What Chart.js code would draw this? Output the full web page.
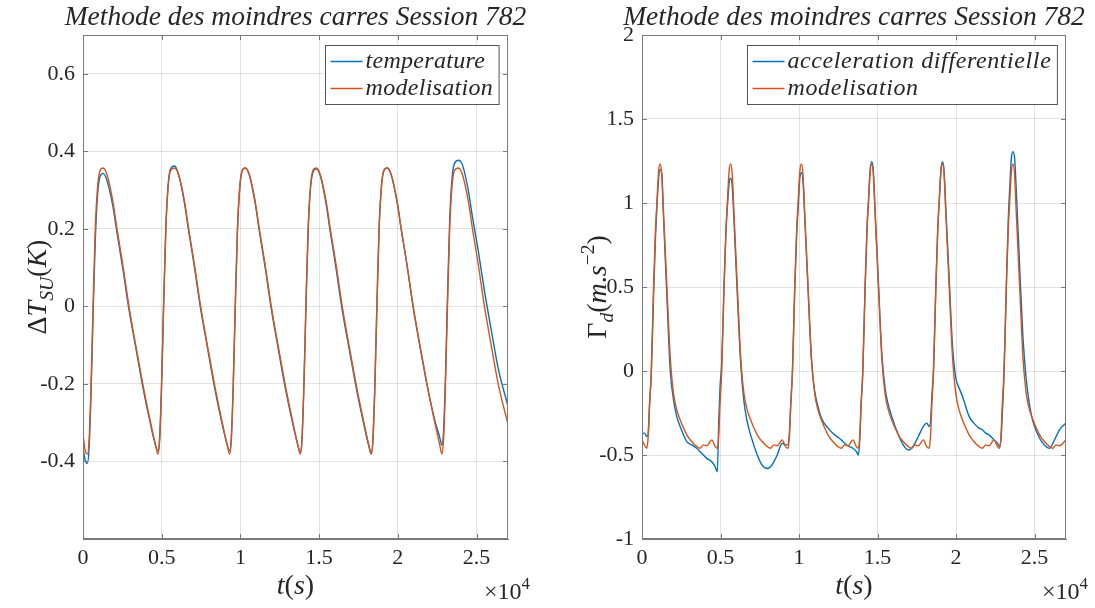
<!DOCTYPE html>
<html>
<head>
<meta charset="utf-8">
<script src="https://cdn.jsdelivr.net/npm/chart.js@4.4.1/dist/chart.umd.min.js"></script>
<style>
  html, body { margin: 0; padding: 0; background: #fff; }
  #wrap { position: relative; width: 1095px; height: 608px; }
  canvas { position: absolute; top: 0; }
  #left { left: 0; }
  #right { left: 547px; }
</style>
</head>
<body>
<div id="wrap">
  <canvas id="left" width="547" height="608"></canvas>
  <canvas id="right" width="548" height="608"></canvas>
</div>
<script>
// ---- data ----
const titleText = 'Methode des moindres carres Session 782';
const xTicks = [0, 5000, 10000, 15000, 20000, 25000];
const yTicksLeft = [-0.4, -0.2, 0, 0.2, 0.4, 0.6];
const yTicksRight = [-1, -0.5, 0, 0.5, 1, 1.5, 2];

// left plot: temperature difference (K) vs time (s)
const tLeft = [0,130,280,380,500,640,780,930,1080,1270,
  1520,1900,2160,2520,2920,3370,3810,4270,4620,4762,
  4862,4982,5122,5262,5412,5562,5822,
  6072,6452,6712,7072,7472,7922,8362,8822,9172,9314,
  9414,9534,9674,9814,9964,10114,10311,
  10561,10941,11201,11561,11961,12411,12851,13311,13661,13803,
  13903,14023,14163,14303,14453,14603,14819,
  15069,15449,15709,16069,16469,16919,17359,17819,18169,18311,
  18411,18531,18671,18811,18961,19111,19327,
  19577,19957,20217,20577,20977,21427,21867,22327,22677,22794,
  22894,23014,23154,23294,23444,23594,23854,
  24104,24484,24744,25104,25504,25954,26394,27000];
const tempLeft = [-0.363,-0.395,-0.405,-0.37,-0.24,-0.02,0.17,0.29,0.335,0.343,
  0.325,0.258,0.19,0.10,-0.008,-0.11,-0.21,-0.30,-0.36,-0.372,
  -0.345,-0.215,0.005,0.2,0.315,0.355,0.362,
  0.34,0.265,0.195,0.103,-0.006,-0.11,-0.21,-0.30,-0.358,-0.372,
  -0.345,-0.218,0.0,0.198,0.308,0.35,0.357,
  0.34,0.265,0.195,0.104,-0.006,-0.111,-0.21,-0.30,-0.36,-0.377,
  -0.35,-0.22,0.0,0.195,0.305,0.345,0.355,
  0.338,0.263,0.192,0.10,-0.01,-0.112,-0.21,-0.30,-0.362,-0.38,
  -0.35,-0.22,0.0,0.2,0.31,0.35,0.357,
  0.34,0.268,0.198,0.108,-0.003,-0.108,-0.205,-0.29,-0.34,-0.358,
  -0.33,-0.20,0.02,0.22,0.33,0.368,0.377,
  0.365,0.298,0.23,0.145,0.04,-0.065,-0.163,-0.257];
const modelLeft = [-0.33,-0.37,-0.381,-0.35,-0.22,0.0,0.2,0.31,0.35,0.357,
  0.34,0.27,0.2,0.11,0.0,-0.105,-0.203,-0.295,-0.36,-0.381,
  -0.35,-0.22,0.0,0.2,0.31,0.35,0.357,
  0.34,0.27,0.2,0.11,0.0,-0.105,-0.203,-0.295,-0.36,-0.381,
  -0.35,-0.22,0.0,0.2,0.31,0.35,0.357,
  0.34,0.27,0.2,0.11,0.0,-0.105,-0.203,-0.295,-0.36,-0.381,
  -0.35,-0.22,0.0,0.2,0.31,0.35,0.357,
  0.34,0.27,0.2,0.11,0.0,-0.105,-0.203,-0.295,-0.36,-0.381,
  -0.35,-0.22,0.0,0.2,0.31,0.35,0.357,
  0.34,0.27,0.2,0.11,0.0,-0.105,-0.203,-0.295,-0.36,-0.381,
  -0.35,-0.22,0.0,0.2,0.31,0.35,0.357,
  0.34,0.27,0.2,0.11,0.0,-0.105,-0.203,-0.304];

// right plot: differential acceleration (m/s^2) vs time (s)
const tRight = [0,150,311,401,481,591,736,861,948,1061,1161,
  1261,1370,1586,1796,2005,2211,2430,2855,3161,3490,3699,3909,4124,4442,4661,4797,
  4887,4967,5077,5222,5347,5434,5547,5647,
  5747,5856,6072,6282,6491,6697,6916,7341,7647,7976,8185,8395,8610,8928,9147,9302,
  9392,9472,9582,9727,9852,9939,10052,10152,
  10252,10361,10577,10787,10996,11202,11421,11846,12152,12481,12690,12900,13115,13433,13652,13782,
  13872,13952,14062,14207,14332,14419,14532,14632,
  14732,14841,15057,15267,15476,15682,15901,16326,16632,16961,17170,17380,17595,17913,18132,18287,
  18377,18457,18567,18712,18837,18924,19037,19137,
  19237,19346,19562,19772,19981,20187,20406,20831,21137,21466,21675,21885,22100,22418,22637,22774,
  22864,22944,23054,23199,23324,23411,23524,23624,
  23724,23833,24049,24259,24468,24674,24893,25318,25624,25953,26162,26372,26587,27000];
const accRight = [-0.37,-0.37,-0.39,-0.36,-0.2,-0.02,0.45,0.8,0.97,1.15,1.2,
  1.17,0.92,0.44,0.006,-0.17,-0.27,-0.33,-0.42,-0.44,-0.46,-0.48,-0.50,-0.52,-0.54,-0.57,-0.60,
  -0.3,-0.1,0.05,0.5,0.83,0.97,1.12,1.147,
  1.1,0.9,0.45,0.05,-0.18,-0.3,-0.38,-0.5,-0.56,-0.58,-0.57,-0.54,-0.5,-0.43,-0.44,-0.44,
  -0.36,-0.2,0.0,0.49,0.82,0.96,1.15,1.18,
  1.13,0.92,0.48,0.07,-0.12,-0.21,-0.28,-0.34,-0.37,-0.395,-0.41,-0.43,-0.445,-0.46,-0.48,-0.50,
  -0.40,-0.2,0.0,0.5,0.86,1.01,1.2,1.246,
  1.19,0.96,0.52,0.11,-0.1,-0.2,-0.27,-0.38,-0.44,-0.47,-0.46,-0.43,-0.39,-0.33,-0.31,-0.33,
  -0.3,-0.15,0.02,0.5,0.86,1.01,1.2,1.246,
  1.19,0.97,0.55,0.15,-0.04,-0.1,-0.15,-0.27,-0.31,-0.34,-0.35,-0.37,-0.38,-0.41,-0.43,-0.45,
  -0.4,-0.25,-0.02,0.5,0.9,1.08,1.27,1.305,
  1.27,1.08,0.62,0.2,-0.05,-0.2,-0.3,-0.4,-0.44,-0.46,-0.43,-0.39,-0.35,-0.31];
const modelRight = [-0.41,-0.44,-0.46,-0.38,-0.2,0.0,0.5,0.85,1.0,1.19,1.232,
  1.17,0.94,0.50,0.085,-0.133,-0.23,-0.29,-0.38,-0.42,-0.45,-0.46,-0.44,-0.445,-0.41,-0.45,-0.46,
  -0.38,-0.2,0.0,0.5,0.85,1.0,1.19,1.232,
  1.17,0.94,0.50,0.085,-0.133,-0.23,-0.29,-0.38,-0.42,-0.45,-0.46,-0.44,-0.445,-0.41,-0.45,-0.46,
  -0.38,-0.2,0.0,0.5,0.85,1.0,1.19,1.232,
  1.17,0.94,0.50,0.085,-0.133,-0.23,-0.29,-0.38,-0.42,-0.45,-0.46,-0.44,-0.445,-0.41,-0.45,-0.46,
  -0.38,-0.2,0.0,0.5,0.85,1.0,1.19,1.232,
  1.17,0.94,0.50,0.085,-0.133,-0.23,-0.29,-0.38,-0.42,-0.45,-0.46,-0.44,-0.445,-0.41,-0.45,-0.46,
  -0.38,-0.2,0.0,0.5,0.85,1.0,1.19,1.232,
  1.17,0.94,0.50,0.085,-0.133,-0.23,-0.29,-0.38,-0.42,-0.45,-0.46,-0.44,-0.445,-0.41,-0.45,-0.46,
  -0.38,-0.2,0.0,0.5,0.85,1.0,1.19,1.232,
  1.17,0.94,0.50,0.085,-0.133,-0.23,-0.29,-0.38,-0.42,-0.45,-0.46,-0.44,-0.445,-0.41];

// ---- styling ----
const BLUE = '#0072BD';
const ORANGE = '#D95319';
const TEXT = '#262626';
const AXIS = '#7a7a7a';
const GRID = 'rgba(38,38,38,0.13)';
const SERIF = '"Liberation Serif", "DejaVu Serif", serif';

function fmt(v) {
    return String(parseFloat(v.toFixed(2)));
}

// draw a run of text pieces (italic / sub / sup), like the LaTeX labels
function segWidth(ctx, segs, size) {
    let w = 0;
    segs.forEach(s => {
        const fs = (s.sub || s.sup) ? size * 0.7 : size;
        ctx.font = `${s.it ? 'italic ' : ''}${fs}px ${SERIF}`;
        w += ctx.measureText(s.t).width;
    });
    return w;
}

function drawSegs(ctx, segs, x, y, size) {
    let cx = x;
    segs.forEach(s => {
        const fs = (s.sub || s.sup) ? size * 0.7 : size;
        ctx.font = `${s.it ? 'italic ' : ''}${fs}px ${SERIF}`;
        let dy = 0;
        if (s.sub) dy = size * 0.25;
        if (s.sup) dy = -size * 0.42;
        ctx.fillText(s.t, cx, y + dy);
        cx += ctx.measureText(s.t).width;
    });
}

const decor = {
    id: 'decor',
    afterDraw(chart, args, o) {
        const ctx = chart.ctx;
        const a = chart.chartArea;
        const xs = chart.scales.x;
        const ys = chart.scales.y;
        ctx.save();

        // box + inward ticks
        ctx.strokeStyle = AXIS;
        ctx.lineWidth = 1;
        ctx.strokeRect(Math.round(a.left) + 0.5, Math.round(a.top) + 0.5,
            Math.round(a.right - a.left) - 1, Math.round(a.bottom - a.top) - 1);
        ctx.beginPath();
        xTicks.forEach(v => {
            const px = Math.round(xs.getPixelForValue(v)) + 0.5;
            ctx.moveTo(px, a.bottom); ctx.lineTo(px, a.bottom - 5);
            ctx.moveTo(px, a.top); ctx.lineTo(px, a.top + 5);
        });
        o.yTicks.forEach(v => {
            const py = Math.round(ys.getPixelForValue(v)) + 0.5;
            ctx.moveTo(a.left, py); ctx.lineTo(a.left + 5, py);
            ctx.moveTo(a.right, py); ctx.lineTo(a.right - 5, py);
        });
        ctx.stroke();

        ctx.fillStyle = TEXT;
        ctx.textBaseline = 'alphabetic';
        ctx.textAlign = 'left';
        const cxm = (a.left + a.right) / 2;

        // title
        ctx.font = `italic 27.5px ${SERIF}`;
        const tw = ctx.measureText(o.title).width;
        ctx.fillText(o.title, cxm - tw / 2, 25);

        // x label
        const xl = [{t: 't', it: 1}, {t: '('}, {t: 's', it: 1}, {t: ')'}];
        drawSegs(ctx, xl, cxm - segWidth(ctx, xl, 28) / 2, 594, 28);

        // x10^4
        const ex = [{t: '×10'}, {t: '4', sup: 1}];
        drawSegs(ctx, ex, a.right + 22 - segWidth(ctx, ex, 24), 599, 24);

        // y label (rotated)
        ctx.save();
        ctx.translate(o.ylabelX, (a.top + a.bottom) / 2);
        ctx.rotate(-Math.PI / 2);
        drawSegs(ctx, o.ylabel, -segWidth(ctx, o.ylabel, 28) / 2, 9, 28);
        ctx.restore();

        // legend
        ctx.font = `italic 24px ${SERIF}`;
        ctx.letterSpacing = o.legendSpacing;
        const names = chart.data.datasets.map(d => d.label);
        const maxW = Math.max(...names.map(n => ctx.measureText(n).width));
        const w = 40 + maxW + 6;
        const h = 59;
        const lx = Math.round(a.right - 9 - w) + 0.5;
        const ly = Math.round(a.top + 10) + 0.5;
        ctx.fillStyle = '#fff';
        ctx.fillRect(lx, ly, w, h);
        ctx.strokeStyle = '#555';
        ctx.strokeRect(lx, ly, w, h);
        chart.data.datasets.forEach((d, i) => {
            const ry = ly + 16 + i * 27;
            ctx.strokeStyle = d.borderColor;
            ctx.lineWidth = 1.5;
            ctx.beginPath();
            ctx.moveTo(lx + 5, ry); ctx.lineTo(lx + 37, ry);
            ctx.stroke();
            ctx.fillStyle = TEXT;
            ctx.textBaseline = 'middle';
            ctx.fillText(d.label, lx + 40, ry);
        });
        ctx.restore();
    }
};

function makePlot(id, cfg) {
    const pts = (t, v) => t.map((x, i) => ({x: x, y: v[i]}));
    return new Chart(document.getElementById(id), {
        type: 'line',
        data: {
            datasets: [
                {
                    label: cfg.names[0],
                    data: pts(cfg.t, cfg.meas),
                    borderColor: BLUE,
                    borderWidth: 1.4,
                    pointRadius: 0,
                    cubicInterpolationMode: 'monotone',
                    order: 1
                },
                {
                    label: cfg.names[1],
                    data: pts(cfg.t, cfg.model),
                    borderColor: ORANGE,
                    borderWidth: 1.4,
                    pointRadius: 0,
                    cubicInterpolationMode: 'monotone',
                    order: 0
                }
            ]
        },
        options: {
            responsive: false,
            animation: false,
            devicePixelRatio: 1,
            layout: { padding: { left: 0, right: cfg.padRight, top: 35, bottom: 29 } },
            plugins: {
                legend: { display: false },
                tooltip: { enabled: false },
                decor: {
                    title: titleText, ylabel: cfg.ylabel, ylabelX: cfg.ylabelX,
                    yTicks: cfg.yTicks, legendSpacing: cfg.legendSpacing
                }
            },
            scales: {
                x: {
                    type: 'linear',
                    min: 0,
                    max: 27000,
                    afterFit: s => { s.height = 40; },
                    afterBuildTicks: s => { s.ticks = xTicks.map(v => ({value: v})); },
                    ticks: {
                        color: TEXT,
                        padding: 6,
                        maxRotation: 0,
                        autoSkip: false,
                        font: { family: SERIF, size: 22 },
                        callback: v => fmt(v / 10000)
                    },
                    grid: { color: GRID, lineWidth: 1, drawTicks: false },
                    border: { display: true, color: AXIS, width: 1 }
                },
                y: {
                    min: cfg.yMin,
                    max: cfg.yMax,
                    afterFit: s => { s.width = cfg.yWidth; },
                    afterBuildTicks: s => { s.ticks = cfg.yTicks.map(v => ({value: v})); },
                    ticks: {
                        color: TEXT,
                        padding: 8,
                        autoSkip: false,
                        font: { family: SERIF, size: 22 },
                        callback: v => fmt(v)
                    },
                    grid: { color: GRID, lineWidth: 1, drawTicks: false },
                    border: { display: true, color: AXIS, width: 1 }
                }
            }
        },
        plugins: [decor]
    });
}

makePlot('left', {
    t: tLeft, meas: tempLeft, model: modelLeft,
    names: ['temperature', 'modelisation'],
    yMin: -0.6, yMax: 0.7, yTicks: yTicksLeft,
    yWidth: 83, padRight: 39, ylabelX: 37, legendSpacing: '0.3px',
    ylabel: [{t: 'Δ'}, {t: 'T', it: 1}, {t: 'SU', it: 1, sub: 1}, {t: '('}, {t: 'K', it: 1}, {t: ')'}]
});

makePlot('right', {
    t: tRight, meas: accRight, model: modelRight,
    names: ['acceleration differentielle', 'modelisation'],
    yMin: -1, yMax: 2, yTicks: yTicksRight,
    yWidth: 95, padRight: 29, ylabelX: 50, legendSpacing: '0.6px',
    ylabel: [{t: 'Γ'}, {t: 'd', it: 1, sub: 1}, {t: '('}, {t: 'm', it: 1}, {t: '.'}, {t: 's', it: 1}, {t: '−2', sup: 1}, {t: ')'}]
});
</script>
</body>
</html>
